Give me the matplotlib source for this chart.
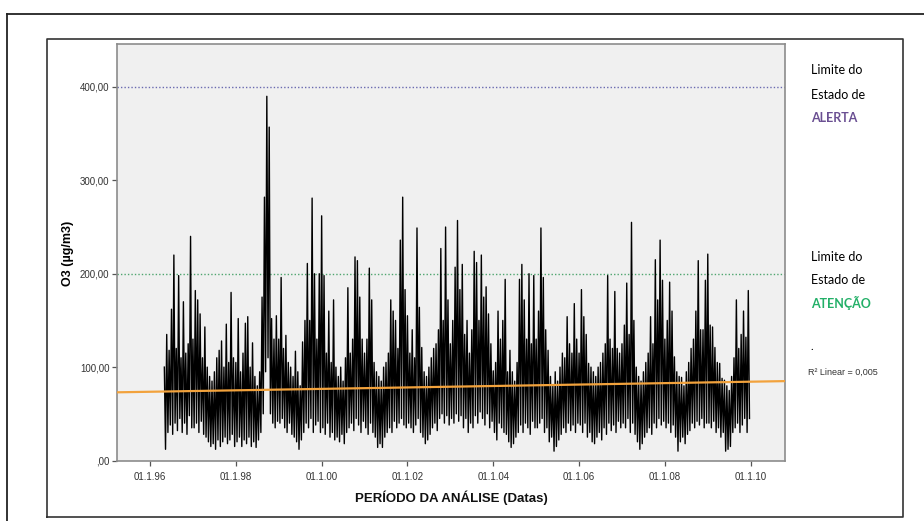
import numpy as np
import matplotlib
matplotlib.use('Agg')  # sem tela
import matplotlib.pyplot as plt
from matplotlib.lines import Line2D

# Concentração de O3 (µg/m3), ~36 leituras por ano (passo de ~10 dias); 1996 começa em maio
o3_1996 = [100, 12, 135, 30, 118, 38, 162, 28, 220, 40, 120, 32,
           198, 45, 110, 30, 170, 40, 115, 28, 125, 48, 240, 35]
o3_1997 = [130, 35, 182, 40, 172, 30, 157, 42, 110, 28, 143, 25,
           100, 20, 90, 15, 85, 18, 95, 12, 110, 22, 118, 15,
           128, 20, 100, 25, 146, 18, 105, 22, 180, 28, 110, 15]
o3_1998 = [105, 20, 152, 25, 95, 15, 115, 22, 147, 18, 154, 25,
           100, 15, 126, 20, 90, 14, 80, 22, 95, 30, 175, 50,
           282, 95, 390, 110, 357, 50, 152, 40, 130, 35, 155, 42]
o3_1999 = [130, 40, 196, 45, 120, 35, 134, 30, 105, 40, 100, 28,
           90, 25, 117, 20, 95, 12, 80, 22, 127, 30, 150, 40,
           211, 35, 150, 45, 281, 30, 200, 38, 130, 42, 200, 30]
o3_2000 = [262, 35, 198, 28, 115, 40, 160, 25, 105, 30, 172, 22,
           100, 25, 90, 20, 100, 28, 85, 18, 110, 30, 185, 35,
           115, 40, 130, 32, 218, 45, 214, 38, 175, 30, 130, 42]
o3_2001 = [115, 35, 130, 28, 206, 40, 172, 30, 105, 25, 95, 14,
           90, 18, 85, 14, 100, 25, 105, 30, 115, 35, 172, 30,
           160, 42, 150, 35, 120, 40, 236, 45, 282, 38, 183, 35]
o3_2002 = [155, 40, 115, 35, 140, 30, 110, 38, 249, 45, 164, 30,
           121, 25, 95, 18, 90, 22, 100, 28, 110, 35, 120, 40,
           125, 32, 140, 45, 227, 50, 150, 40, 250, 48, 172, 38]
o3_2003 = [125, 45, 150, 40, 207, 50, 257, 42, 183, 48, 210, 35,
           135, 45, 150, 30, 115, 40, 140, 35, 224, 48, 212, 40,
           150, 52, 220, 45, 175, 38, 186, 50, 157, 35, 125, 42]
o3_2004 = [96, 30, 105, 22, 160, 40, 130, 35, 150, 30, 194, 28,
           95, 20, 118, 14, 95, 18, 85, 25, 105, 30, 194, 38,
           210, 30, 172, 40, 130, 35, 200, 28, 125, 42, 198, 35]
o3_2005 = [130, 35, 160, 40, 249, 45, 196, 30, 140, 35, 118, 20,
           90, 25, 80, 10, 95, 15, 85, 22, 100, 28, 115, 35,
           110, 30, 154, 40, 125, 32, 115, 38, 168, 30, 130, 40]
o3_2006 = [115, 38, 183, 30, 154, 40, 135, 25, 104, 30, 100, 20,
           95, 18, 90, 25, 100, 30, 105, 22, 115, 35, 125, 28,
           198, 40, 130, 32, 120, 38, 181, 30, 120, 42, 115, 35]
o3_2007 = [125, 40, 145, 35, 190, 45, 135, 30, 255, 40, 150, 28,
           100, 20, 90, 12, 85, 18, 95, 25, 105, 30, 115, 35,
           154, 28, 125, 40, 215, 35, 172, 45, 236, 38, 193, 42]
o3_2008 = [130, 35, 150, 40, 191, 30, 160, 38, 111, 25, 95, 10,
           90, 20, 89, 25, 80, 18, 95, 28, 105, 32, 120, 40,
           130, 35, 160, 42, 214, 38, 140, 45, 140, 35, 193, 40]
o3_2009 = [221, 40, 145, 35, 143, 42, 121, 30, 105, 35, 104, 25,
           88, 30, 86, 10, 80, 12, 75, 15, 90, 30, 110, 35,
           172, 40, 120, 30, 135, 38, 160, 45, 132, 30, 182, 45]

anos = [1996, 1997, 1998, 1999, 2000, 2001, 2002,
        2003, 2004, 2005, 2006, 2007, 2008, 2009]
blocos = [o3_1996, o3_1997, o3_1998, o3_1999, o3_2000, o3_2001, o3_2002,
          o3_2003, o3_2004, o3_2005, o3_2006, o3_2007, o3_2008, o3_2009]

# reta "R2 Linear" do original (ajustada sobre a série diária completa)
ajuste_inclinacao = 0.77   # µg/m3 por ano
ajuste_valor_2003 = 79.0   # valor da reta em 01.1.03

tick_anos = [1996, 1998, 2000, 2002, 2004, 2006, 2008, 2010]
tick_rotulos = ['01.1.96', '01.1.98', '01.1.00', '01.1.02',
                '01.1.04', '01.1.06', '01.1.08', '01.1.10']
y_ticks = [0, 100, 200, 300, 400]
y_rotulos = [',00', '100,00', '200,00', '300,00', '400,00']

limite_alerta = 400
limite_atencao = 200

# eixo do tempo em anos decimais
x = []
y = []
for ano, bloco in zip(anos, blocos):
    inicio = 36 - len(bloco)
    for i, v in enumerate(bloco):
        x.append(ano + (inicio + i) / 36)
        y.append(v)
x = np.array(x)
y = np.array(y, dtype=float)

fonte_estreita = ['Liberation Sans Narrow', 'Liberation Sans', 'DejaVu Sans']

fig = plt.figure(figsize=(9.24, 5.21), dpi=100)

# molduras (externa e interna)
W, H = 924, 521
fig.add_artist(Line2D([6.7 / W, 6.7 / W], [0, 1 - 14 / H], color='#222222', lw=1.3))
fig.add_artist(Line2D([6.7 / W, 1], [1 - 14 / H, 1 - 14 / H], color='#222222', lw=1.3))
x0, x1 = 46.7 / W, 903.3 / W
y0, y1 = 1 - 517 / H, 1 - 39.3 / H
fig.add_artist(Line2D([x0, x1, x1, x0, x0], [y0, y0, y1, y1, y0], color='#333333', lw=1.2))

ax = fig.add_axes([117 / W, 1 - 460.5 / H, 668 / W, 416.5 / H])
ax.set_facecolor('#f0f0f0')
for s in ax.spines.values():
    s.set_color('#8c8c8c')
    s.set_linewidth(1.2)

xlim = (1995.23, 2010.80)
ax.set_xlim(*xlim)
ax.set_ylim(0, 446)

ax.plot(x, y, color='black', lw=1.0, zorder=2)

# limites
ax.axhline(limite_alerta, color='#6a6ab0', ls=(0, (1, 1.5)), lw=1.0, zorder=1)
ax.axhline(limite_atencao, color='#4fa56f', ls=(0, (1, 1.5)), lw=1.0, zorder=1)

# reta de ajuste linear em toda a largura do eixo
xr = np.array(xlim)
ax.plot(xr, ajuste_valor_2003 + ajuste_inclinacao * (xr - 2003), color='#f2a23c',
        lw=1.6, zorder=3)

ax.set_xticks(tick_anos)
ax.set_xticklabels(tick_rotulos)
ax.set_yticks(y_ticks)
ax.set_yticklabels(y_rotulos)
ax.tick_params(axis='both', direction='out', length=3.5, width=0.9, color='#555555',
               labelsize=7, labelcolor='#333333', pad=2)
for t in ax.get_xticklabels() + ax.get_yticklabels():
    t.set_family(fonte_estreita)
ax.tick_params(axis='x', pad=5)

fig.text(68 / W, 1 - 253 / H, 'O3 (µg/m3)', rotation=90, ha='center', va='center',
         fontsize=9, fontweight='bold', family=['Liberation Sans', 'DejaVu Sans'])
fig.text(451 / W, 1 - 498 / H, 'PERÍODO DA ANÁLISE (Datas)', ha='center', va='center',
         fontsize=9.5, fontweight='bold', family=fonte_estreita, color='#111111')

# textos à direita
fonte_dir = ['Lato', 'DejaVu Sans']
fig.text(811 / W, 1 - 70 / H, 'Limite do', fontsize=9, family=fonte_dir, va='center')
fig.text(811 / W, 1 - 95 / H, 'Estado de', fontsize=9, family=fonte_dir, va='center')
fig.text(811 / W, 1 - 118 / H, 'ALERTA', fontsize=9, family=fonte_dir, va='center',
         color='#6a4f92', fontweight='bold')
fig.text(811 / W, 1 - 257 / H, 'Limite do', fontsize=9, family=fonte_dir, va='center')
fig.text(811 / W, 1 - 280 / H, 'Estado de', fontsize=9, family=fonte_dir, va='center')
fig.text(811 / W, 1 - 303 / H, 'ATENÇÃO', fontsize=9, family=fonte_dir, va='center',
         color='#23b068', fontweight='bold')
fig.text(810 / W, 1 - 346 / H, '.', fontsize=8, family=fonte_dir, va='center')
fig.text(808 / W, 1 - 372 / H, 'R² Linear = 0,005', fontsize=6.5, family=fonte_estreita,
         va='center', color='#333333')

fig.savefig('out.png', dpi=100)
